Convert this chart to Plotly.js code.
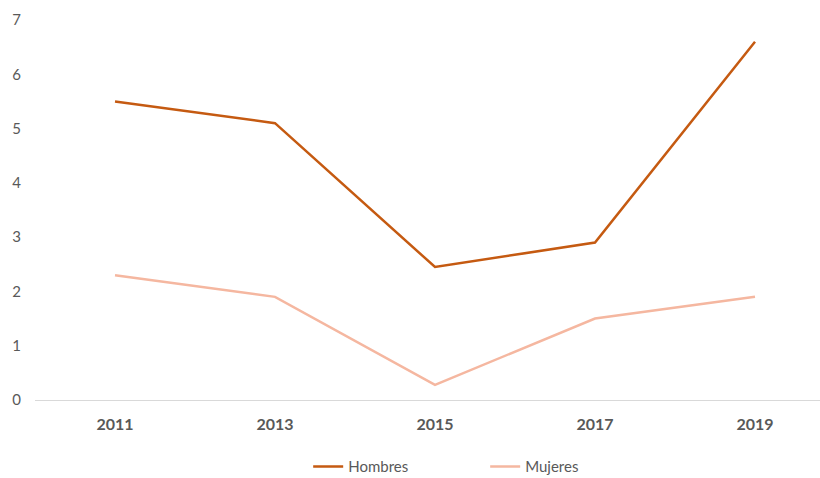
<!DOCTYPE html>
<html>
<head>
<meta charset="utf-8">
<script src="https://cdn.plot.ly/plotly-3.0.1.min.js"></script>
<style>html,body{margin:0;padding:0;background:#fff;}#chart{width:820px;height:478px;}</style>
</head>
<body>
<div id="chart"></div>
<script>
const years = ["2011", "2013", "2015", "2017", "2019"];
const hombres = [5.5, 5.1, 2.45, 2.9, 6.6];
const mujeres = [2.3, 1.9, 0.28, 1.5, 1.9];
const yTicks = [0, 1, 2, 3, 4, 5, 6, 7];

const font = "Lato, 'Open Sans', sans-serif";
const traces = [
  {x: years, y: hombres, name: "Hombres", type: "scatter", mode: "lines",
   line: {color: "#C55A11", width: 2.5}},
  {x: years, y: mujeres, name: "Mujeres", type: "scatter", mode: "lines",
   line: {color: "#F5B7A0", width: 2.5}}
];
const layout = {
  width: 820, height: 478,
  margin: {l: 35, r: 0, t: 20, b: 78},
  paper_bgcolor: "#fff", plot_bgcolor: "#fff",
  font: {family: font, color: "#595959", size: 15},
  showlegend: true,
  legend: {orientation: "h", x: 0.348, xanchor: "left", yref: "container", y: 0.058, yanchor: "top",
           font: {family: font, size: 15, color: "#595959"}, itemwidth: 30, entrywidth: 132},
  xaxis: {type: "category", range: [-0.5, 4.40625], showgrid: false, zeroline: false,
          showline: true, linecolor: "#D9D9D9", linewidth: 1, ticks: "", ticklabelstandoff: 10,
          tickfont: {family: font, size: 16, color: "#595959", weight: "bold"}, fixedrange: true},
  yaxis: {range: [0, 7], tickvals: yTicks, showgrid: false, zeroline: false, showline: false,
          ticks: "", ticklabelstandoff: 13, tickfont: {family: font, size: 15, color: "#595959"}, fixedrange: true}
};
Plotly.newPlot("chart", traces, layout, {displayModeBar: false, staticPlot: true});
</script>
</body>
</html>
